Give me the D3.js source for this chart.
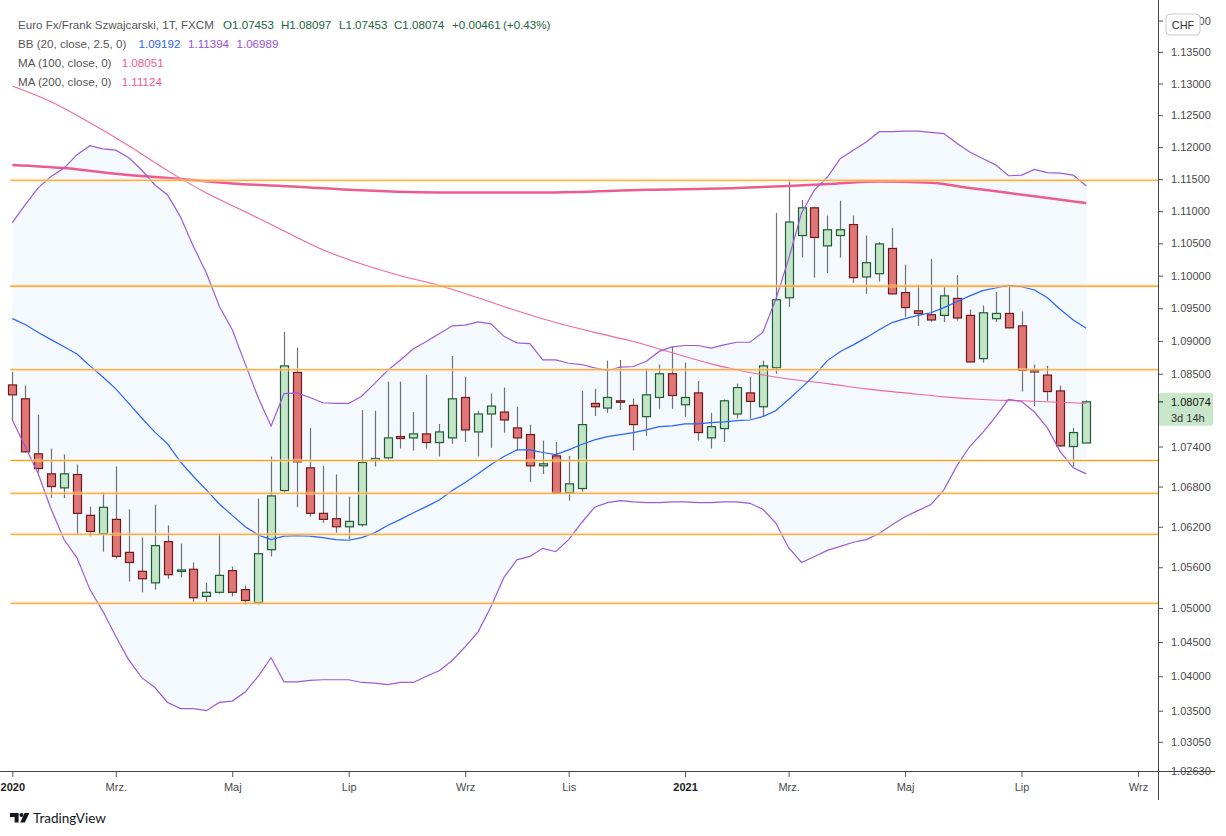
<!DOCTYPE html>
<html><head><meta charset="utf-8">
<script src="https://cdn.jsdelivr.net/npm/d3@7"></script>
<style>
body{margin:0;background:#fff}
svg{display:block}
text{font-family:"Liberation Sans",Arial,sans-serif}
</style>
</head><body>
<svg id="c" width="1226" height="836"></svg>
<script>
// ---------- DATA (weekly EUR/CHF candles) ----------
const startDate = "2020-01-06";
const opens  = [1.0833,1.0812,1.0729,1.0699,1.0678,1.0698,1.0637,1.0610,1.0631,1.0582,
                1.0554,1.0537,1.0598,1.0555,1.0557,1.0517,1.0523,1.0555,1.0527,1.0508,
                1.0586,1.0674,1.0852,1.0708,1.0640,1.0632,1.0620,1.0623,1.0719,1.0723,
                1.0755,1.0753,1.0759,1.0746,1.0753,1.0814,1.0762,1.0789,1.0792,1.0768,
                1.0758,1.0711,1.0726,1.0671,1.0677,1.0805,1.0798,1.0809,1.0802,1.0785,
                1.0814,1.0850,1.0803,1.0821,1.0753,1.0767,1.0789,1.0821,1.0800,1.0859,
                1.0966,1.1062,1.1105,1.1046,1.1062,1.1079,1.0998,1.1003,1.1042,1.0974,
                1.0946,1.0940,1.0939,1.0965,1.0939,1.0873,1.0934,1.0942,1.0923,1.0855,
                1.0848,1.0824,1.0740,1.07453];
const highs  = [1.0853,1.0832,1.0788,1.0737,1.0728,1.0713,1.0650,1.0671,1.0710,1.0646,
                1.0604,1.0653,1.0622,1.0595,1.0567,1.0537,1.0610,1.0561,1.0533,1.0662,
                1.0725,1.0914,1.0890,1.0768,1.0711,1.0698,1.0665,1.0795,1.0794,1.0838,
                1.0838,1.0792,1.0848,1.0774,1.0877,1.0845,1.0794,1.0820,1.0829,1.0800,
                1.0773,1.0749,1.0747,1.0726,1.0824,1.0827,1.0870,1.0871,1.0812,1.0858,
                1.0864,1.0891,1.0867,1.0839,1.0791,1.0811,1.0835,1.0845,1.0870,1.1097,
                1.1149,1.1117,1.1107,1.1093,1.1116,1.1093,1.1062,1.1052,1.1074,1.1017,
                1.0986,1.1026,1.0983,1.1001,1.0948,1.0954,1.0975,1.0983,1.0945,1.0864,
                1.0862,1.0832,1.0768,1.08097];
const lows   = [1.0780,1.0731,1.0701,1.0663,1.0663,1.0608,1.0606,1.0583,1.0573,1.0539,
                1.0523,1.0527,1.0543,1.0545,1.0509,1.0509,1.0521,1.0517,1.0505,1.0505,
                1.0576,1.0671,1.0649,1.0635,1.0626,1.0611,1.0601,1.0620,1.0710,1.0720,
                1.0737,1.0734,1.0737,1.0725,1.0744,1.0747,1.0725,1.0738,1.0761,1.0734,
                1.0687,1.0699,1.0669,1.0659,1.0672,1.0786,1.0791,1.0795,1.0734,1.0756,
                1.0797,1.0797,1.0785,1.0749,1.0737,1.0747,1.0782,1.0782,1.0785,1.0850,
                1.0952,1.1028,1.0997,1.1004,1.1028,1.0989,1.0972,1.0991,1.0971,1.0937,
                1.0923,1.0929,1.0929,1.0931,1.0867,1.0867,1.0929,1.0919,1.0823,1.0801,
                1.0809,1.0740,1.0710,1.07453];
const closes = [1.0818,1.0732,1.0707,1.0680,1.0699,1.0640,1.0613,1.0649,1.0576,1.0567,
                1.0543,1.0592,1.0549,1.0556,1.0515,1.0523,1.0548,1.0523,1.0511,1.0580,
                1.0666,1.0862,1.0717,1.0640,1.0631,1.0620,1.0628,1.0716,1.0722,1.0753,
                1.0752,1.0759,1.0746,1.0762,1.0812,1.0765,1.0789,1.0801,1.0780,1.0753,
                1.0711,1.0714,1.0671,1.0684,1.0773,1.0800,1.0814,1.0808,1.0773,1.0818,
                1.0850,1.0817,1.0814,1.0761,1.0770,1.0809,1.0829,1.0808,1.0862,1.0963,
                1.1083,1.1105,1.1059,1.1071,1.1071,1.0997,1.1020,1.1049,1.0972,1.0951,
                1.0942,1.0932,1.0969,1.0935,1.0868,1.0943,1.0942,1.0920,1.0855,1.0854,
                1.0823,1.0741,1.0761,1.08074];

// Bollinger Bands (20, close, 2.5) – one value per candle
const bbUpper = [1.1082,1.1110,1.1136,1.1154,1.1167,1.1188,1.1202,1.1197,1.1195,1.1183,
                 1.1164,1.1141,1.1125,1.1091,1.1045,1.1004,1.0953,1.0917,1.0865,1.0814,
                 1.0771,1.0820,1.0821,1.0814,1.0806,1.0805,1.0805,1.0816,1.0835,1.0855,
                 1.0871,1.0888,1.0899,1.0911,1.0923,1.0924,1.0929,1.0926,1.0907,1.0897,
                 1.0896,1.0871,1.0871,1.0866,1.0864,1.0859,1.0855,1.0860,1.0861,1.0869,
                 1.0884,1.0891,1.0893,1.0893,1.0889,1.0894,1.0898,1.0898,1.0913,1.0963,
                 1.1026,1.1097,1.1133,1.1153,1.1182,1.1195,1.1208,1.1224,1.1224,1.1225,
                 1.1225,1.1223,1.1221,1.1206,1.1192,1.1182,1.1172,1.1155,1.1156,1.1165,
                 1.1160,1.1159,1.1156,1.11394];
const bbBasis = [1.0934,1.0925,1.0913,1.0902,1.0891,1.0880,1.0862,1.0845,1.0827,1.0805,
                 1.0783,1.0762,1.0744,1.0717,1.0695,1.0675,1.0654,1.0637,1.0620,1.0608,
                 1.0601,1.0606,1.0607,1.0606,1.0604,1.0601,1.0600,1.0604,1.0611,1.0622,
                 1.0631,1.0641,1.0650,1.0660,1.0674,1.0686,1.0699,1.0713,1.0725,1.0735,
                 1.0735,1.0731,1.0728,1.0735,1.0743,1.0750,1.0755,1.0758,1.0761,1.0765,
                 1.0770,1.0771,1.0774,1.0774,1.0776,1.0777,1.0779,1.0780,1.0785,1.0794,
                 1.0811,1.0829,1.0848,1.0870,1.0884,1.0894,1.0905,1.0917,1.0928,1.0934,
                 1.0939,1.0943,1.0951,1.0960,1.0969,1.0977,1.0981,1.0985,1.0983,1.0978,
                 1.0966,1.0948,1.0932,1.09192];
const bbLower = [1.0780,1.0740,1.0699,1.0646,1.0601,1.0574,1.0527,1.0495,1.0458,1.0424,
                 1.0398,1.0384,1.0362,1.0353,1.0353,1.0350,1.0362,1.0364,1.0377,1.0400,
                 1.0427,1.0392,1.0392,1.0394,1.0395,1.0395,1.0395,1.0391,1.0390,1.0388,
                 1.0391,1.0391,1.0400,1.0408,1.0423,1.0443,1.0465,1.0502,1.0545,1.0571,
                 1.0576,1.0588,1.0583,1.0601,1.0626,1.0649,1.0656,1.0659,1.0657,1.0656,
                 1.0656,1.0657,1.0657,1.0656,1.0656,1.0657,1.0657,1.0655,1.0646,1.0626,
                 1.0589,1.0567,1.0576,1.0585,1.0591,1.0597,1.0601,1.0610,1.0623,1.0635,
                 1.0644,1.0653,1.0675,1.0711,1.0740,1.0761,1.0785,1.0811,1.0808,1.0792,
                 1.0768,1.0732,1.0708,1.06989];

// Moving averages, read at the listed candle numbers (1-based)
const ma100Bars = [1,4,7,10,13,16,19,22,25,28,31,34,37,40,43,46,49,52,55,58,61,64,67,70,73,76,79,84];
const ma100Vals = [1.1296,1.1271,1.1238,1.1202,1.1163,1.1128,1.1099,1.1069,1.1040,1.1018,
                   1.1000,1.0985,1.0966,1.0946,1.0928,1.0913,1.0899,1.0882,1.0865,1.0852,
                   1.0842,1.0835,1.0827,1.0821,1.0815,1.0811,1.0809,1.08051];
const ma200Bars = [1,5,10,14,18,23,27,34,42,50,57,64,68,72,75,80,84];
const ma200Vals = [1.1172,1.1167,1.1156,1.1150,1.1143,1.1138,1.1133,1.1129,1.1129,1.1133,
                   1.1136,1.1142,1.1146,1.1144,1.1136,1.1123,1.11124];

// Horizontal support / resistance levels
const levels = [1.1148,1.0984,1.0856,1.0719,1.0670,1.0609,1.0507];

// Axis ticks
const priceTicks = [1.14,1.135,1.13,1.125,1.12,1.115,1.11,1.105,1.10,1.095,1.09,1.085,
                    1.074,1.068,1.062,1.056,1.05,1.045,1.04,1.035,1.0305,1.0263];
const tickDates  = ["2020-01-06","2020-03-02","2020-05-04","2020-07-06","2020-09-07","2020-11-02",
                    "2021-01-04","2021-03-01","2021-05-03","2021-07-05","2021-09-06"];
const tickLabels = ["2020","Mrz.","Maj","Lip","Wrz","Lis","2021","Mrz.","Maj","Lip","Wrz"];

const lastPrice = 1.08074;
const lastPriceTime = "3d 14h";

// ---------- LAYOUT ----------
const svg = d3.select("#c");
const plotRight = 1158, plotBottom = 771;
const parse = d3.utcParse("%Y-%m-%d");
const t0 = parse(startDate);
const dates = opens.map((_, i) => d3.utcMonday.offset(t0, i));
const x = d3.scaleUtc().domain([t0, dates[dates.length - 1]]).range([12.3, 1086.2]);
const y = d3.scaleLog().domain([1.0263, 1.14329]).range([plotBottom, 0]);

const defs = svg.append("defs");
defs.append("clipPath").attr("id", "plot").append("rect")
  .attr("x", 0).attr("y", 0).attr("width", plotRight).attr("height", plotBottom);

const g = svg.append("g").attr("clip-path", "url(#plot)");

// BB fill
const idx = d3.range(dates.length);
g.append("path").datum(idx)
  .attr("d", d3.area().x(i => x(dates[i])).y0(i => y(bbLower[i])).y1(i => y(bbUpper[i])))
  .attr("fill", "#f4f9fe");

// candles
const cg = g.append("g");
idx.forEach(i => {
  const cx = Math.round(x(dates[i])) + 0.5;
  const up = closes[i] >= opens[i];
  cg.append("line").attr("x1", cx).attr("x2", cx)
    .attr("y1", y(highs[i])).attr("y2", y(lows[i]))
    .attr("stroke", "#707174").attr("stroke-width", 1.2);
  const top = y(Math.max(opens[i], closes[i])), bot = y(Math.min(opens[i], closes[i]));
  cg.append("rect").attr("x", cx - 4).attr("width", 8)
    .attr("y", top).attr("height", Math.max(1.5, bot - top))
    .attr("fill", up ? "#c4e5c8" : "#e07676")
    .attr("stroke", up ? "#1f5c36" : "#6e1b1b").attr("stroke-width", 1.2);
});

// MA lines
const maLine = (bars, vals) => d3.line().curve(d3.curveMonotoneX)
  .x((d, k) => x(dates[bars[k] - 1])).y(d => y(d))(vals);
g.append("path").attr("d", maLine(ma200Bars, ma200Vals))
  .attr("fill", "none").attr("stroke", "#ec5c8e").attr("stroke-width", 2.5);
g.append("path").attr("d", maLine(ma100Bars, ma100Vals))
  .attr("fill", "none").attr("stroke", "#f2679a").attr("stroke-width", 1.1);

// BB lines
const bbLine = arr => d3.line().x(i => x(dates[i])).y(i => y(arr[i]))(idx);
g.append("path").attr("d", bbLine(bbUpper)).attr("fill", "none").attr("stroke", "#9d5bd6").attr("stroke-width", 1.2);
g.append("path").attr("d", bbLine(bbLower)).attr("fill", "none").attr("stroke", "#9d5bd6").attr("stroke-width", 1.2);
g.append("path").attr("d", bbLine(bbBasis)).attr("fill", "none").attr("stroke", "#2962ff").attr("stroke-width", 1.2);

// levels
levels.forEach(v => {
  g.append("line").attr("x1", x(dates[0]) - 2).attr("x2", plotRight)
    .attr("y1", y(v)).attr("y2", y(v))
    .attr("stroke", "rgba(255,225,185,0.5)").attr("stroke-width", 3.5);
  g.append("line").attr("x1", x(dates[0]) - 2).attr("x2", plotRight)
    .attr("y1", y(v)).attr("y2", y(v))
    .attr("stroke", "#ff9a10").attr("stroke-width", 1.1);
});

// ---------- AXES ----------
const yAxis = svg.append("g").attr("transform", `translate(${plotRight},0)`)
  .call(d3.axisRight(y).tickValues(priceTicks).tickFormat(d3.format(".5f")).tickSize(5).tickPadding(8));
yAxis.select(".domain").remove();
yAxis.selectAll(".tick line").attr("stroke", "#555");
yAxis.selectAll("text").attr("fill", "#4a4a4a").style("font-size", "11px")
  .style("font-family", '"Liberation Sans",Arial,sans-serif');

const xAxis = svg.append("g").attr("transform", `translate(0,${plotBottom})`)
  .call(d3.axisBottom(x).tickValues(tickDates.map(parse)).tickFormat((d, i) => tickLabels[i]).tickSize(6).tickPadding(6));
xAxis.select(".domain").remove();
xAxis.selectAll(".tick line").attr("stroke", "#555");
xAxis.selectAll("text").style("font-size", "11px")
  .style("font-family", '"Liberation Sans",Arial,sans-serif')
  .style("font-weight", (d, i) => /^\d{4}$/.test(tickLabels[i]) ? "bold" : "normal")
  .attr("fill", (d, i) => /^\d{4}$/.test(tickLabels[i]) ? "#222" : "#4a4a4a");

svg.append("line").attr("x1", 0).attr("x2", 1215).attr("y1", plotBottom + 0.5).attr("y2", plotBottom + 0.5)
  .attr("stroke", "#444").attr("stroke-width", 1);
svg.append("line").attr("x1", plotRight + 0.5).attr("x2", plotRight + 0.5).attr("y1", 0).attr("y2", 800)
  .attr("stroke", "#444").attr("stroke-width", 1);

// CHF badge (sits over the top price label, as in the original)
svg.append("rect").attr("x", 1166).attr("y", 14).attr("width", 34).attr("height", 21).attr("rx", 4)
  .attr("fill", "#fff").attr("stroke", "#c9c9c9");
svg.append("text").attr("x", 1183).attr("y", 29).attr("text-anchor", "middle")
  .style("font-size", "11px").attr("fill", "#333").text("CHF");

// last price box
const ly = y(lastPrice);
svg.append("rect").attr("x", plotRight + 1).attr("y", ly - 9).attr("width", 54).attr("height", 33)
  .attr("rx", 2).attr("fill", "#c8e6c9");
svg.append("line").attr("x1", plotRight).attr("x2", plotRight + 5).attr("y1", ly).attr("y2", ly).attr("stroke", "#222");
svg.append("text").attr("x", 1171).attr("y", ly + 4).style("font-size", "11px").attr("fill", "#111")
  .text(d3.format(".5f")(lastPrice));
svg.append("text").attr("x", 1171).attr("y", ly + 20).style("font-size", "11px").attr("fill", "#333")
  .text(lastPriceTime);

// ---------- LEGEND ----------
const green = "#22633c", grey = "#555", pink = "#ef5a8e", purple = "#9c4fd6";
const legend = [
  [29, [["Euro Fx/Frank Szwajcarski, 1T, FXCM", 18, grey], ["O1.07453", 223, green], ["H1.08097", 281, green],
        ["L1.07453", 339, green], ["C1.08074", 394, green], ["+0.00461", 452, green], ["(+0.43%)", 503, green]]],
  [48, [["BB (20, close, 2.5, 0)", 18, grey], ["1.09192", 138.5, "#2962ff"], ["1.11394", 188, purple], ["1.06989", 236.5, purple]]],
  [67, [["MA (100, close, 0)", 18, grey], ["1.08051", 121.7, pink]]],
  [86, [["MA (200, close, 0)", 18, grey], ["1.11124", 121.7, pink]]]
];
legend.forEach(([ty, parts]) => parts.forEach(([t, tx, col]) => {
  svg.append("text").attr("x", tx).attr("y", ty).style("font-size", "11.6px").attr("fill", col).text(t);
}));

// ---------- TradingView mark ----------
const logo = svg.append("g").attr("fill", "#131722");
logo.append("path").attr("d", "M10 813 h8.6 v9.6 h-4 v-5.6 h-4.6 z");
logo.append("circle").attr("cx", 21.4).attr("cy", 815).attr("r", 2);
logo.append("path").attr("d", "M24.6 813 h4.8 l-4.6 9.6 h-4.6 z");
svg.append("text").attr("x", 33).attr("y", 823).style("font-size", "13.5px")
  .style("font-family", "Lato, 'Liberation Sans', sans-serif").attr("fill", "#131722").text("TradingView");
</script>
</body></html>
